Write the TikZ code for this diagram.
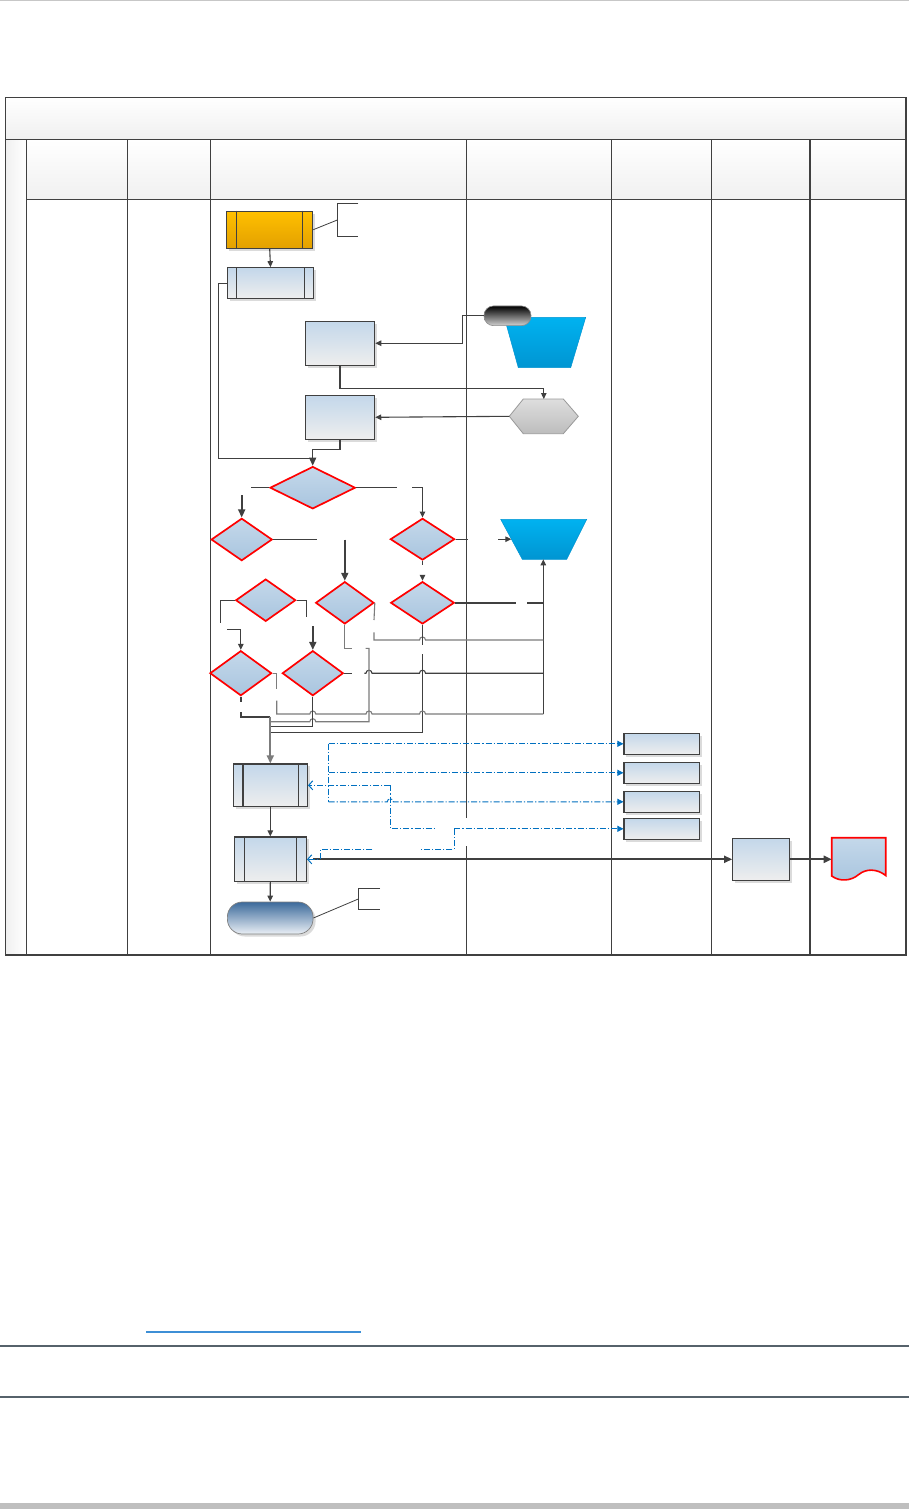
\documentclass[tikz,border=0pt]{standalone}
\usetikzlibrary{arrows.meta,shapes.geometric,shadows}
\definecolor{lnc}{HTML}{404040}
\definecolor{lgc}{HTML}{7C7C7C}
\definecolor{hdr}{HTML}{F0F0F0}
\definecolor{procT}{HTML}{C3D7EA}
\definecolor{procB}{HTML}{EEEEEE}
\definecolor{diaT}{HTML}{C4D8EA}
\definecolor{diaB}{HTML}{A9C5DF}
\definecolor{oraT}{HTML}{FFC000}
\definecolor{oraB}{HTML}{E3A000}
\definecolor{tzT}{HTML}{00B2F0}
\definecolor{tzB}{HTML}{0095D2}
\definecolor{dblue}{HTML}{0070C0}
\definecolor{lnk}{HTML}{3D8FD6}
\definecolor{rule}{HTML}{56626B}
\begin{document}
\begin{tikzpicture}[x=1pt,y=-1pt,
  ln/.style={draw=lnc,line width=1.1pt},
  lt/.style={draw=lgc,line width=1.1pt},
  frm/.style={draw=lnc,line width=1.1pt},
  arr/.style={-{Triangle[length=6pt,width=5.5pt]}},
  tarr/.style={-{Triangle[length=8pt,width=7pt]}},
  shd/.style={drop shadow={shadow xshift=2.5pt,shadow yshift=-2.5pt,fill=black!14,opacity=1}},
  proc/.style={rectangle,draw=lnc,line width=1.1pt,top color=procT,bottom color=procB,inner sep=0pt,shd},
  dia/.style={diamond,draw=red,line width=1.7pt,top color=diaT,bottom color=diaB,inner sep=0pt},
  bl/.style={draw=dblue,line width=1pt,dash pattern=on 6pt off 2pt on 1.2pt off 2pt},
  barr/.style={-{Triangle[length=6pt,width=6pt]}},
  barb/.style={-{Straight Barb[length=4pt,width=9pt]}}
]
\useasboundingbox (0,0) rectangle (909,1509);
\fill[white] (0,0) rectangle (909,1509);
% page decorations
\fill[black!22] (0,0) rectangle (909,1.4);
\draw[lnk,line width=1.3pt] (146,1332) -- (361,1332);
\draw[rule,line width=1.2pt] (0,1346) -- (909,1346);
\draw[rule,line width=1.2pt] (0,1397) -- (909,1397);
\fill[black!25] (0,1503) rectangle (909,1509);

% swimlane frame
\fill[top color=white,bottom color=hdr] (5.3,97.3) rectangle (906,139.3);
\fill[top color=white,bottom color=hdr] (26.5,139.3) rectangle (906,199.3);
\fill[left color=hdr,right color=white] (5.3,139.3) rectangle (26.5,955);
\draw[frm] (5.3,97.3) rectangle (906,955);
\draw[frm] (5.3,139.3) -- (906,139.3);
\draw[frm] (26.5,199.3) -- (906,199.3);
\draw[frm] (26.5,139.3) -- (26.5,955);
\draw[frm] (127.5,139.3) -- (127.5,955);
\draw[frm] (210.8,139.3) -- (210.8,955);
\draw[frm] (466.5,139.3) -- (466.5,818);
\draw[frm] (466.5,846) -- (466.5,955);
\draw[frm] (611.5,139.3) -- (611.5,955);
\draw[frm] (711.5,139.3) -- (711.5,955);
\draw[frm] (810,139.3) -- (810,955);

% top shapes
\node[proc,top color=oraT,bottom color=oraB,minimum width=86pt,minimum height=37.3pt] (O) at (269.7,229.7) {};
\draw[ln] ([xshift=10.6pt]O.north west) -- ([xshift=10.6pt]O.south west);
\draw[ln] ([xshift=-11pt]O.north east) -- ([xshift=-11pt]O.south east);
\node[proc,minimum width=86.4pt,minimum height=31pt] (P1) at (270.5,283.2) {};
\draw[ln] ([xshift=10pt]P1.north west) -- ([xshift=10pt]P1.south west);
\draw[ln] ([xshift=-10pt]P1.north east) -- ([xshift=-10pt]P1.south east);
\node[proc,minimum width=69.4pt,minimum height=44.3pt] (B3) at (340,343.2) {};
\node[proc,minimum width=69.4pt,minimum height=44pt] (B4) at (340,417.3) {};

% annotation of start
\draw[ln,line width=0.8pt] (O.east) -- (337.3,220);
\draw[ln] (358.3,203.3) -- (337.3,203.3) -- (337.3,236.3) -- (358.3,236.3);

% trapezoid 1 and black terminal
\path[top color=tzT,bottom color=tzB,draw=tzB,line width=0.5pt] (504.3,317.3) -- (585.7,317.3) -- (570.7,367.7) -- (518.3,367.7) -- cycle;
\node[rectangle,rounded corners=9.5pt,draw=black!45,line width=0.6pt,top color=black,bottom color=black!18,minimum width=47pt,minimum height=19.7pt,inner sep=0pt] (K) at (507.5,315.8) {};

% hexagon
\path[top color=black!13,bottom color=black!26,draw=black!40,line width=0.8pt] (509.3,416.3) -- (523.3,399) -- (563.3,399) -- (578.3,416.3) -- (563.3,433.7) -- (523.3,433.7) -- cycle;
\coordinate (Hn) at (543.8,399);
\coordinate (Hw) at (509.3,416.3);

% trapezoid 2
\path[top color=tzT,bottom color=tzB,draw=tzB,line width=0.5pt] (500.7,519.3) -- (586.7,519.3) -- (566.7,559.3) -- (522.3,559.3) -- cycle;
\coordinate (TZw) at (511.3,539.2);
\coordinate (TZs) at (543.3,559.3);

% decisions
\node[dia,minimum width=85.3pt,minimum height=42.3pt] (D0) at (312.7,487.7) {};
\node[dia,minimum width=61pt,minimum height=42.4pt] (D1) at (241.7,539.5) {};
\node[dia,minimum width=64.3pt,minimum height=41.7pt] (D2) at (422.5,539.2) {};
\node[dia,minimum width=58.3pt,minimum height=42.3pt] (D3) at (344.8,602.8) {};
\node[dia,minimum width=63.6pt,minimum height=42.3pt] (D4) at (422.5,602.8) {};
\node[dia,minimum width=60pt,minimum height=42.3pt] (D5) at (265.7,600.2) {};
\node[dia,minimum width=61.7pt,minimum height=45pt] (D6) at (240.8,673.2) {};
\node[dia,minimum width=61pt,minimum height=45pt] (D7) at (312.8,673.2) {};

% top connectors
\draw[ln,arr] (O.south) -- (P1.north);
\draw[ln,arr] (K.west) -- (462.3,315.8) -- (462.3,343.2) -- (B3.east);
\draw[ln,arr] (B3.south) -- (340,388.3) -- (543.8,388.3) -- (Hn);
\draw[ln,arr] (Hw) -- (B4.east);
\draw[ln] (B4.south) -- (340,449.3) -- (312.7,449.3) -- (312.7,458.3);
\draw[ln,tarr] (P1.west) -- (218.3,283.2) -- (218.3,458.3) -- (312.7,458.3) -- (D0.north);

% decision connectors
\draw[ln] (D0.west) -- (251,487.7);
\draw[ln,line width=1.7pt,tarr] (241.7,495) -- (D1.north);
\draw[ln] (D0.east) -- (396.7,487.7);
\draw[ln,arr] (412.3,487.7) -- (422.5,487.7) -- (D2.north);
\draw[ln] (D1.east) -- (316.7,539.5);
\draw[ln,line width=1.7pt,tarr] (344.8,539.5) -- (D3.north);
\draw[ln] (D2.east) -- (467.7,539.2);
\draw[ln,arr] (498.3,539.2) -- (TZw);
\draw[ln] (D2.south) -- (422.5,565);
\draw[ln,arr] (422.5,575.5) -- (D4.north);
\draw[ln] (D5.west) -- (220.7,600.2) -- (220.7,622.7);
\draw[ln,arr] (227.3,629.3) -- (240.8,629.3) -- (D6.north);
\draw[ln] (D5.east) -- (306.7,600.2) -- (306.7,617.3);
\draw[ln,line width=1.7pt,tarr] (312.8,626) -- (D7.north);

% D4 right to trapezoid 2
\draw[ln,line width=2.1pt] (D4.east) -- (516,602.8);
\draw[ln,line width=2.1pt] (527.3,602.8) -- (543.3,602.8);
\draw[ln,arr] (543.3,714) -- (TZs);

% D3 right
\draw[lt] (D3.east) -- (374,620);
\draw[lt] (374,632.3) -- (374,640) -- (419.5,640) arc[start angle=180,end angle=360,radius=3] -- (543.3,640);
% D4 bottom
\draw[ln] (D4.south) -- (422.5,645);
\draw[ln] (422.5,654.3) -- (422.5,732.3) -- (270.3,732.3);
% D7 right
\draw[ln] (D7.east) -- (352.3,673.2);
\draw[ln] (364.3,673.2) -- (366,673.2) arc[start angle=180,end angle=360,radius=3] -- (419.5,673.2) arc[start angle=180,end angle=360,radius=3] -- (543.3,673.2);
% D6 right
\draw[lt] (D6.east) -- (276.7,673.2) -- (276.7,689.3);
\draw[lt] (276.7,700.7) -- (276.7,714) -- (309.8,714) arc[start angle=180,end angle=360,radius=3] -- (366,714) arc[start angle=180,end angle=360,radius=3] -- (419.5,714) arc[start angle=180,end angle=360,radius=3] -- (543.3,714);
% D3 bottom
\draw[lt] (D3.south) -- (344.8,648.3) -- (351.7,648.3);
\draw[lt] (270.3,721.7) -- (309.8,721.7) arc[start angle=180,end angle=360,radius=3] -- (369,721.7) -- (369,648.3) -- (365.7,648.3);
% D6 bottom
\draw[ln,line width=1.9pt] (D6.south) -- (240.8,702);
\draw[ln,line width=1.9pt] (240.8,712.3) -- (240.8,716.7) -- (270.3,716.7);
% D7 bottom
\draw[ln] (D7.south) -- (312.8,726.7) -- (270.3,726.7);

% lower process boxes
\node[proc,minimum width=74.4pt,minimum height=42.7pt] (P5) at (270.3,785.3) {};
\draw[ln] ([xshift=10.4pt]P5.north west) -- ([xshift=10.4pt]P5.south west);
\draw[ln] ([xshift=-10pt]P5.north east) -- ([xshift=-10pt]P5.south east);
\node[proc,minimum width=72.4pt,minimum height=44.7pt] (P6) at (270.3,859.3) {};
\draw[ln] ([xshift=11pt]P6.north west) -- ([xshift=11pt]P6.south west);
\draw[ln] ([xshift=-11pt]P6.north east) -- ([xshift=-11pt]P6.south east);
\node[rectangle,rounded corners=15pt,draw=black!50,line width=0.7pt,top color={rgb,255:red,60;green,106;blue,155},bottom color={rgb,255:red,234;green,239;blue,245},minimum width=85.7pt,minimum height=32pt,inner sep=0pt,shd] (T2) at (270.2,918) {};

% trunk
\draw[lt,line width=1.7pt,tarr] (270.3,716.7) -- (P5.north);
\draw[ln,arr] (P5.south) -- (P6.north);
\draw[ln,arr] (P6.south) -- (T2.north);

% end annotation
\draw[ln,line width=0.8pt] (T2.east) -- (358.3,899);
\draw[ln] (380,888.7) -- (358.3,888.7) -- (358.3,909.3) -- (380,909.3);

% right column boxes
\node[proc,minimum width=75.7pt,minimum height=21pt] (R1) at (661.8,743.8) {};
\node[proc,minimum width=75.7pt,minimum height=21pt] (R2) at (661.8,772.8) {};
\node[proc,minimum width=75.7pt,minimum height=21pt] (R3) at (661.8,801.8) {};
\node[proc,minimum width=75.7pt,minimum height=21pt] (R4) at (661.8,828.8) {};
\node[proc,minimum width=57pt,minimum height=42pt] (Q) at (761.2,859.3) {};

% document shape
\path[draw=red,line width=1.6pt,top color=diaT,bottom color=diaB] (831.7,837.7) -- (885.7,837.7) -- (885.7,875.5) .. controls (877,868.5) and (866,868.5) .. (858.7,874.5) .. controls (851,881) and (840,882) .. (831.7,876) -- cycle;
\coordinate (Dw) at (831.7,859.3);

% thick flow to the right
\draw[ln,line width=2.3pt,tarr] (313,859.3) -- (Q.west);
\draw[ln,line width=2.3pt,tarr] (Q.east) -- (Dw);

% blue dash-dot links
\draw[bl] (328.7,743.8) -- (328.7,801.8);
\draw[bl,barr] (328.7,743.8) -- (R1.west);
\draw[bl,barr] (328.7,772.8) -- (R2.west);
\draw[bl,barr] (328.7,801.8) -- (387.3,801.8) arc[start angle=180,end angle=360,radius=3] -- (R3.west);
\draw[bl,barb] (390.3,785.3) -- (P5.east);
\draw[bl] (390.3,785.3) -- (390.3,828.3) -- (436,828.3);
\draw[bl,barr] (454.3,828.8) -- (R4.west);
\draw[bl] (454.3,828.8) -- (454.3,849.3) -- (420.7,849.3);
\draw[bl,barb] (372.3,849.3) -- (320,849.3) -- (320,859.3) -- (P6.east);
\end{tikzpicture}
\end{document}
